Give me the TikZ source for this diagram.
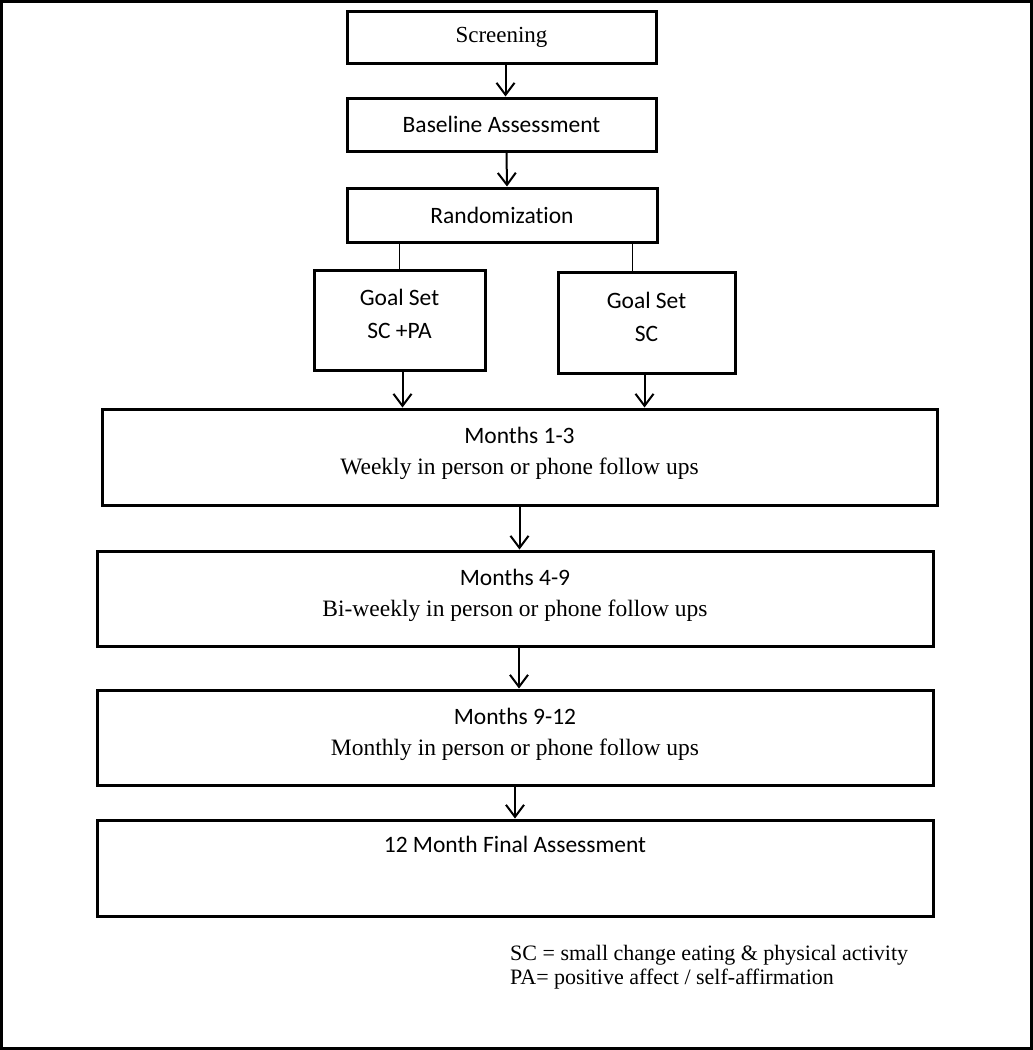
\documentclass[tikz,border=0pt]{standalone}
\usepackage{fontspec}
\setmainfont{Liberation Serif}
\newfontfamily\calibri[Ligatures=NoCommon]{Carlito}
\usetikzlibrary{positioning, arrows.meta}
\newcommand{\padbelow}[1]{\rule[-#1]{0pt}{0pt}}

\begin{document}
\begin{tikzpicture}[x=1pt, y=-1pt,
		box/.style = {draw,
			line width = 3pt,
			inner sep = 0pt,
			align = center,
			font = \fontsize{23.5}{31}\selectfont},
		flow/.style = {line width = 2pt, -{Straight Barb[length=12pt, width=18pt]}},
		split/.style = {line width = 1.3pt}]

	\useasboundingbox (0,0) rectangle (1033,1050);
	\draw[line width=3pt] (1.5,1.5) rectangle (1031.5,1048.5);

	\node (screen) at (501.5,37) [box, minimum width=309pt, minimum height=52pt,
		font=\fontsize{23}{31}\selectfont] {Screening};
	\node (base) at (501.5,124.5) [box, minimum width=309pt, minimum height=53pt] {\calibri Baseline Assessment};
	\node (rand) at (502,215) [box, minimum width=310pt, minimum height=54pt] {\calibri Randomization};
	\node (goalA) at (399.5,320) [box, minimum width=171pt, minimum height=100pt,
		font=\calibri\fontsize{23.5}{33}\selectfont] {Goal Set\\ SC +PA\padbelow{12pt}};
	\node (goalB) at (646.5,322.5) [box, minimum width=177pt, minimum height=101pt,
		font=\calibri\fontsize{23.5}{33}\selectfont] {Goal Set\\ SC\padbelow{12pt}};
	\node (m13) at (519.5,457) [box, minimum width=835pt, minimum height=96pt]
		{{\calibri Months 1-3}\\ Weekly in person or phone follow ups\padbelow{12pt}};
	\node (m49) at (515,598.5) [box, minimum width=836pt, minimum height=95pt]
		{{\calibri Months 4-9}\\ Bi-weekly in person or phone follow ups\padbelow{12pt}};
	\node (m912) at (515,737.5) [box, minimum width=836pt, minimum height=95pt]
		{{\calibri Months 9-12}\\ Monthly in person or phone follow ups\padbelow{12pt}};
	\node (final) at (515,868) [box, minimum width=836pt, minimum height=96pt]
		{\calibri 12 Month Final Assessment\padbelow{47pt}};
	\node (key) at (510,945) [anchor=north west, inner sep=0pt, align=left,
		font=\fontsize{22}{24}\selectfont]
		{SC = small change eating \& physical activity\\ PA= positive affect / self-affirmation};

	\draw[flow] ([xshift=4pt]screen.south) -- ([xshift=4pt]base.north);
	\draw[flow] ([xshift=5pt]base.south) -- ([xshift=5pt]rand.north);
	\draw[split] (rand.south -| goalA.north) -- (goalA.north);
	\draw[split] ([xshift=-14pt]goalB.north |- rand.south) -- ([xshift=-14pt]goalB.north);
	\draw[flow] ([xshift=3pt]goalA.south) -- ([xshift=3pt]goalA.south |- m13.north);
	\draw[flow] ([xshift=-2pt]goalB.south) -- ([xshift=-2pt]goalB.south |- m13.north);
	\draw[flow] (m13.south) -- (m13.south |- m49.north);
	\draw[flow] ([xshift=4pt]m49.south) -- ([xshift=4pt]m912.north);
	\draw[flow] (m912.south) -- (final.north);
\end{tikzpicture}
\end{document}
